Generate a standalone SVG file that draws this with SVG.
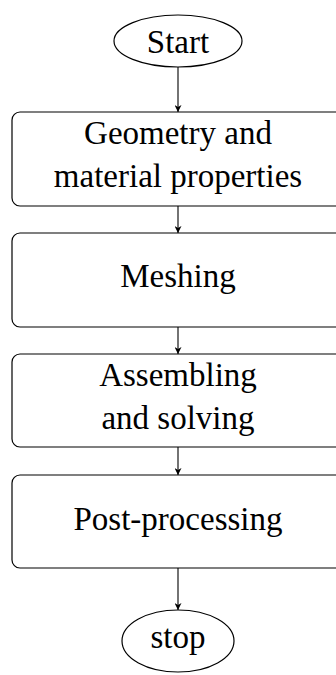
<svg xmlns="http://www.w3.org/2000/svg" width="336" height="675" viewBox="0 0 336 675">
<style>
.n{fill:#fff;stroke:#000;stroke-width:1.2}
.t{font-family:"Liberation Serif","DejaVu Serif",serif;font-size:33px;fill:#000;text-anchor:middle}
.c{stroke:#000;stroke-width:1.1;fill:none;marker-end:url(#ah)}
</style>
<defs>
<marker id="ah" viewBox="0 0 10 10" refX="10" refY="5" markerWidth="7" markerHeight="7" markerUnits="userSpaceOnUse" orient="auto">
<path d="M0,0 L10,5 L0,10 L3,5 Z" fill="#000"/>
</marker>
</defs>
<g id="connectors">
<line class="c" x1="178" y1="67" x2="178" y2="112"/>
<line class="c" x1="178" y1="206" x2="178" y2="233"/>
<line class="c" x1="178" y1="327" x2="178" y2="354"/>
<line class="c" x1="178" y1="447" x2="178" y2="475"/>
<line class="c" x1="178" y1="568" x2="178" y2="610"/>
</g>
<g id="start">
<ellipse class="n" cx="178" cy="41" rx="64" ry="26"/>
<text class="t" x="178" y="53">Start</text>
</g>
<g id="geometry">
<rect class="n" x="12" y="112" width="340" height="94" rx="8"/>
<text class="t" x="178" y="144">Geometry and</text>
<text class="t" x="178" y="187">material properties</text>
</g>
<g id="meshing">
<rect class="n" x="12" y="233" width="340" height="94" rx="8"/>
<text class="t" x="178" y="287">Meshing</text>
</g>
<g id="assembling">
<rect class="n" x="12" y="354" width="340" height="93" rx="8"/>
<text class="t" x="178" y="386">Assembling</text>
<text class="t" x="178" y="429">and solving</text>
</g>
<g id="postprocessing">
<rect class="n" x="12" y="475" width="340" height="93" rx="8"/>
<text class="t" x="178" y="530">Post-processing</text>
</g>
<g id="stop">
<ellipse class="n" cx="178" cy="641" rx="56" ry="31"/>
<text class="t" x="178" y="648">stop</text>
</g>
</svg>
